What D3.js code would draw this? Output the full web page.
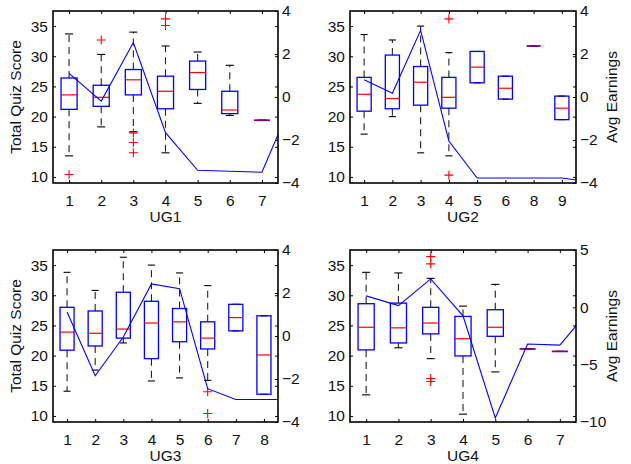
<!DOCTYPE html>
<html>
<head>
<meta charset="utf-8">
<script src="https://cdn.jsdelivr.net/npm/d3@7"></script>
<style>
  body { margin: 0; background: #fff; }
  svg { display: block; }
</style>
</head>
<body>
<script>
// box stats per group: [lower whisker, q1, median, q3, upper whisker]
var ug1Labels = ["1", "2", "3", "4", "5", "6", "7"];
var ug1Boxes = [
  [13.5, 21.2, 23.6, 26.4, 33.7],
  [18.3, 21.7, 23.2, 25.2, 30.3],
  [17.5, 23.6, 26.1, 27.8, 34.0],
  [14.0, 21.3, 24.2, 26.7, 31.7],
  [22.2, 24.5, 27.3, 29.2, 30.7],
  [20.2, 20.5, 21.1, 24.2, 28.5],
  [19.4, 19.4, 19.4, 19.4, 19.4]
];
var ug1Outliers = [[10.4], [32.7], [17.3, 15.7, 14.0], [36.2, 35.1], [], [], []];
var ug1Earnings = [1.1, -0.19, 2.53, -1.66, -3.41, -3.45, -3.5, 0.0];

var ug2Labels = ["1", "2", "3", "4", "5", "6", "8", "9"];
var ug2Boxes = [
  [17.1, 20.9, 23.7, 26.5, 33.6],
  [20.0, 21.3, 23.0, 30.2, 32.7],
  [14.0, 21.9, 25.7, 28.3, 35.0],
  [13.5, 21.4, 23.2, 26.5, 30.6],
  [25.6, 25.6, 28.2, 30.8, 30.8],
  [22.9, 22.9, 24.7, 26.7, 26.7],
  [31.7, 31.7, 31.7, 31.7, 31.7],
  [19.5, 19.5, 21.4, 23.4, 23.4]
];
var ug2Outliers = [[], [], [], [36.2, 10.3], [], [], [], []];
var ug2Earnings = [0.8, 0.17, 3.1, -2.05, -3.77, -3.77, -3.77, -3.77, -3.95];

var ug3Labels = ["1", "2", "3", "4", "5", "6", "7", "8"];
var ug3Boxes = [
  [14.1, 20.9, 23.9, 28.0, 33.8],
  [17.6, 21.6, 23.7, 27.4, 30.8],
  [22.1, 22.9, 24.4, 30.5, 36.3],
  [15.8, 19.5, 25.4, 29.0, 35.0],
  [16.3, 22.3, 25.6, 27.8, 33.7],
  [15.9, 21.1, 22.9, 25.6, 31.6],
  [24.1, 24.1, 26.3, 28.5, 28.5],
  [13.6, 13.6, 20.1, 26.6, 26.6]
];
var ug3Outliers = [[], [], [], [], [], [14.0, 10.4], [], []];
var ug3Earnings = [1.12, -1.85, -0.05, 2.42, 2.2, -2.45, -2.95, -2.95, -2.95];

var ug4Labels = ["1", "2", "3", "4", "5", "6", "7"];
var ug4Boxes = [
  [13.5, 20.95, 24.7, 28.6, 33.8],
  [21.3, 22.1, 24.6, 28.7, 33.7],
  [19.5, 23.6, 25.4, 28.0, 32.8],
  [10.3, 19.95, 22.8, 26.5, 28.2],
  [17.3, 23.2, 24.7, 27.6, 31.8],
  [21.1, 21.1, 21.1, 21.1, 21.1],
  [20.7, 20.7, 20.7, 20.7, 20.7]
];
var ug4Outliers = [[], [], [36.4, 35.2, 16.2, 15.7], [], [], [], []];
var ug4Earnings = [1.0, 0.15, 2.48, -0.74, -9.65, -3.2, -3.3, 0.08];

var scoreTicks = [10, 15, 20, 25, 30, 35];
var earnTicksA = [-4, -2, 0, 2, 4];
var earnTicksB = [-10, -5, 0, 5];

var W = 631, H = 464;
var fontSize = "15.5px";

var svg = d3.select("body").append("svg")
  .attr("width", W)
  .attr("height", H)
  .style("font-family", "'Liberation Sans', Arial, Helvetica, sans-serif");

var panels = [
  {x: 53, y: 11, w: 225, h: 172, labels: ug1Labels, boxes: ug1Boxes, outliers: ug1Outliers,
   earn: ug1Earnings, rDomain: [-4, 4], rTicks: earnTicksA, name: "UG1", leftTitle: true, rightTitle: false},
  {x: 350, y: 11, w: 226, h: 172, labels: ug2Labels, boxes: ug2Boxes, outliers: ug2Outliers,
   earn: ug2Earnings, rDomain: [-4, 4], rTicks: earnTicksA, name: "UG2", leftTitle: false, rightTitle: true},
  {x: 53, y: 250, w: 225, h: 172, labels: ug3Labels, boxes: ug3Boxes, outliers: ug3Outliers,
   earn: ug3Earnings, rDomain: [-4, 4], rTicks: earnTicksA, name: "UG3", leftTitle: true, rightTitle: false},
  {x: 350, y: 250, w: 226, h: 172, labels: ug4Labels, boxes: ug4Boxes, outliers: ug4Outliers,
   earn: ug4Earnings, rDomain: [-10, 5], rTicks: earnTicksB, name: "UG4", leftTitle: false, rightTitle: true}
];

panels.forEach(function(p, pi) {
  var n = p.labels.length;

  var x = d3.scaleLinear().domain([0.5, n + 0.5]).range([0, p.w]);
  var y = d3.scaleLinear().domain([9, 37.5]).range([p.h, 0]);
  var yR = d3.scaleLinear().domain(p.rDomain).range([p.h, 0]);

  var step = x(2) - x(1);
  var hw = step * 0.25;     // half box width
  var cw = step * 0.125;    // half cap width

  var g = svg.append("g")
    .attr("transform", "translate(" + p.x + "," + p.y + ")");

  g.append("clipPath")
    .attr("id", "clip" + pi)
    .append("rect")
    .attr("width", p.w)
    .attr("height", p.h);

  // whiskers (dashed) and caps
  var groups = g.append("g").selectAll("g.grp")
    .data(p.boxes)
    .enter().append("g")
    .attr("class", "grp");

  groups.append("line")
    .attr("x1", function(d, i) { return x(i + 1); })
    .attr("x2", function(d, i) { return x(i + 1); })
    .attr("y1", function(d) { return y(d[3]); })
    .attr("y2", function(d) { return y(d[4]); })
    .attr("stroke", "#222")
    .attr("stroke-width", 1.1)
    .attr("stroke-dasharray", "7,5");

  groups.append("line")
    .attr("x1", function(d, i) { return x(i + 1); })
    .attr("x2", function(d, i) { return x(i + 1); })
    .attr("y1", function(d) { return y(d[1]); })
    .attr("y2", function(d) { return y(d[0]); })
    .attr("stroke", "#222")
    .attr("stroke-width", 1.1)
    .attr("stroke-dasharray", "7,5");

  [0, 4].forEach(function(k) {
    groups.append("line")
      .attr("x1", function(d, i) { return x(i + 1) - cw; })
      .attr("x2", function(d, i) { return x(i + 1) + cw; })
      .attr("y1", function(d) { return y(d[k]); })
      .attr("y2", function(d) { return y(d[k]); })
      .attr("stroke", "#000")
      .attr("stroke-width", 1.1);
  });

  // boxes
  groups.append("rect")
    .attr("x", function(d, i) { return x(i + 1) - hw; })
    .attr("y", function(d) { return y(d[3]); })
    .attr("width", hw * 2)
    .attr("height", function(d) { return y(d[1]) - y(d[3]); })
    .attr("fill", "none")
    .attr("stroke", "#0000ff")
    .attr("stroke-width", 1.3);

  // medians
  groups.append("line")
    .attr("x1", function(d, i) { return x(i + 1) - hw; })
    .attr("x2", function(d, i) { return x(i + 1) + hw; })
    .attr("y1", function(d) { return y(d[2]); })
    .attr("y2", function(d) { return y(d[2]); })
    .attr("stroke", function(d) { return d[1] === d[3] ? "#80007f" : "#ff0000"; })
    .attr("stroke-width", function(d) { return d[1] === d[3] ? 1.8 : 1.2; });

  // outliers
  var pts = [];
  p.outliers.forEach(function(arr, i) {
    arr.forEach(function(v) { pts.push({i: i, v: v}); });
  });
  g.append("g").selectAll("path")
    .data(pts)
    .enter().append("path")
    .attr("d", function(d) {
      var cx = x(d.i + 1), cy = y(d.v), s = 4.5;
      return "M" + (cx - s) + "," + cy + "H" + (cx + s) + "M" + cx + "," + (cy - s) + "V" + (cy + s);
    })
    .attr("stroke", "#ff0000")
    .attr("stroke-width", 1.1)
    .attr("fill", "none");

  // avg earnings line
  var line = d3.line()
    .x(function(d, i) { return x(i + 1); })
    .y(function(d) { return yR(d); });

  g.append("path")
    .datum(p.earn)
    .attr("clip-path", "url(#clip" + pi + ")")
    .attr("d", line)
    .attr("fill", "none")
    .attr("stroke", "#0000ff")
    .attr("stroke-width", 1.1);

  // axes
  var xAxis = d3.axisBottom(x)
    .tickValues(d3.range(1, n + 1))
    .tickFormat(function(d, i) { return p.labels[i]; })
    .tickSizeInner(-3)
    .tickSizeOuter(0)
    .tickPadding(12);

  var xTop = d3.axisTop(x)
    .tickValues(d3.range(1, n + 1))
    .tickFormat("")
    .tickSizeInner(-3)
    .tickSizeOuter(0);

  var yAxis = d3.axisLeft(y)
    .tickValues(scoreTicks)
    .tickSizeInner(-3)
    .tickSizeOuter(0)
    .tickPadding(5);

  var yMirror = d3.axisRight(y)
    .tickValues(scoreTicks)
    .tickFormat("")
    .tickSizeInner(-3)
    .tickSizeOuter(0);

  var yRight = d3.axisRight(yR)
    .tickValues(p.rTicks)
    .tickSizeInner(-3)
    .tickSizeOuter(0)
    .tickPadding(4);

  var axes = [
    g.append("g").attr("transform", "translate(0," + p.h + ")").call(xAxis),
    g.append("g").call(xTop),
    g.append("g").call(yAxis),
    g.append("g").attr("transform", "translate(" + p.w + ",0)").call(yMirror),
    g.append("g").attr("transform", "translate(" + p.w + ",0)").call(yRight)
  ];
  axes.forEach(function(a) {
    a.select(".domain").remove();
    a.attr("font-size", fontSize).attr("font-family", null);
    a.selectAll("text").attr("fill", "#111");
  });

  // frame
  g.append("rect")
    .attr("width", p.w)
    .attr("height", p.h)
    .attr("fill", "none")
    .attr("stroke", "#000")
    .attr("stroke-width", 1.6);

  // titles
  g.append("text")
    .attr("x", p.w / 2)
    .attr("y", p.h + 39)
    .attr("text-anchor", "middle")
    .attr("font-size", fontSize)
    .attr("fill", "#111")
    .text(p.name);

  if (p.leftTitle) {
    g.append("text")
      .attr("transform", "translate(" + (20.5 - p.x) + "," + (p.h / 2) + ") rotate(-90)")
      .attr("text-anchor", "middle")
      .attr("font-size", fontSize)
      .attr("fill", "#111")
      .text("Total Quiz Score");
  }
  if (p.rightTitle) {
    g.append("text")
      .attr("transform", "translate(" + (617 - p.x) + "," + (p.h / 2) + ") rotate(-90)")
      .attr("text-anchor", "middle")
      .attr("font-size", fontSize)
      .attr("fill", "#111")
      .text("Avg Earnings");
  }
});
</script>
</body>
</html>
